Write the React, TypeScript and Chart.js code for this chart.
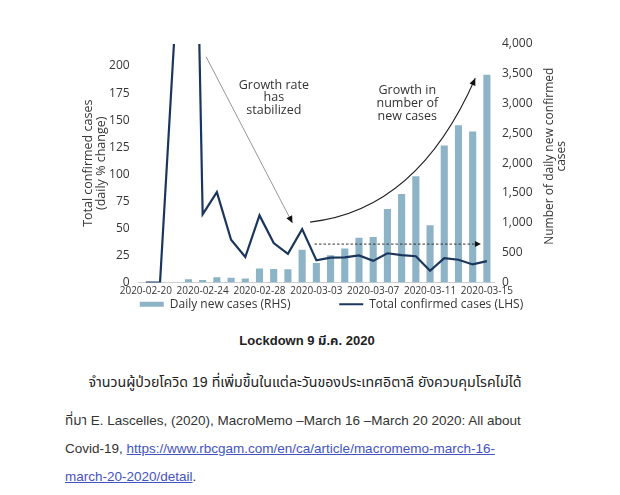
import React, { useEffect, useRef } from "react";
import { Chart, registerables } from "chart.js";

Chart.register(...registerables);

// ---------------- data ----------------
const dates = [
  "2020-02-20", "2020-02-21", "2020-02-22", "2020-02-23", "2020-02-24",
  "2020-02-25", "2020-02-26", "2020-02-27", "2020-02-28", "2020-02-29",
  "2020-03-01", "2020-03-02", "2020-03-03", "2020-03-04", "2020-03-05",
  "2020-03-06", "2020-03-07", "2020-03-08", "2020-03-09", "2020-03-10",
  "2020-03-11", "2020-03-12", "2020-03-13", "2020-03-14", "2020-03-15",
];
// Daily new cases (RHS)
const dailyNewCases = [
  0, 0, 0, 55, 40, 90, 78, 65, 235, 228,
  224, 548, 328, 455, 572, 752, 762, 1232, 1485, 1780,
  962, 2296, 2636, 2532, 3485,
];
// Total confirmed cases, daily % change (LHS)
const totalChangePct = [
  0, 0, 225, 740, 63, 83.5, 39.5, 23.5, 62, 36.5,
  26.5, 49.3, 20.5, 23, 23.3, 25, 20, 27, 25.3, 24.3,
  10.8, 22.4, 21, 16.7, 19.7,
];
const xTickLabels = ["2020-02-20", "2020-02-24", "2020-02-28", "2020-03-03", "2020-03-07", "2020-03-11", "2020-03-15"];
const leftTitle = ["Total confirmed cases", "(daily % change)"];
const rightTitle = ["Number of daily new confirmed", "cases"];
const seriesLabels = ["Total confirmed cases (LHS)", "Daily new cases (RHS)"];

// annotations (category index, RHS value)
const rateText = ["Growth rate", "has", "stabilized"];
const rateTextAt = [9.01, 3097];
const rateArrow = [[4.24, 3787], [10.32, 997]];
const casesText = ["Growth in", "number of", "new cases"];
const casesTextAt = [18.4, 3003];
const casesCurve = [[11.56, 1013], [19.13, 1210], [23.18, 3424]];
const flatArrow = [[11.87, 644], [23.58, 644]];

const FONT = '"Open Sans", "DejaVu Sans", sans-serif';
const TEXT = "#363636";
const BAR = "#8db3c7";
const LINE = "#1b365d";

function arrowHead(ctx: CanvasRenderingContext2D, x: number, y: number, ang: number, len = 7, half = 3.2) {
  ctx.beginPath();
  ctx.moveTo(x, y);
  ctx.lineTo(x - len * Math.cos(ang) + half * Math.sin(ang), y - len * Math.sin(ang) - half * Math.cos(ang));
  ctx.lineTo(x - len * Math.cos(ang) - half * Math.sin(ang), y - len * Math.sin(ang) + half * Math.cos(ang));
  ctx.closePath();
  ctx.fill();
}

const annotationPlugin = {
  id: "annotations",
  afterDraw(chart: any) {
    const { ctx, chartArea, scales } = chart;
    const x = scales.x;
    const y = scales.yRight;
    const P = (p: number[]) => [x.getPixelForValue(p[0]), y.getPixelForValue(p[1])];
    ctx.save();

    // texts
    ctx.font = `12.5px ${FONT}`;
    ctx.fillStyle = "#333";
    ctx.textAlign = "center";
    ctx.textBaseline = "middle";
    const [rx, ry] = P(rateTextAt);
    rateText.forEach((t, k) => ctx.fillText(t, rx, ry + (k - 1) * 12.6));
    const [cx, cy] = P(casesTextAt);
    casesText.forEach((t, k) => ctx.fillText(t, cx, cy + (k - 1) * 12.6));

    // growth-rate arrow
    const [a0x, a0y] = P(rateArrow[0]);
    const [a1x, a1y] = P(rateArrow[1]);
    ctx.strokeStyle = "#8a8a8a";
    ctx.lineWidth = 0.9;
    ctx.beginPath();
    ctx.moveTo(a0x, a0y);
    ctx.lineTo(a1x, a1y);
    ctx.stroke();
    ctx.fillStyle = "#111";
    arrowHead(ctx, a1x, a1y, Math.atan2(a1y - a0y, a1x - a0x));

    // curved arrow
    const [c0x, c0y] = P(casesCurve[0]);
    const [c1x, c1y] = P(casesCurve[1]);
    const [c2x, c2y] = P(casesCurve[2]);
    ctx.strokeStyle = "#222";
    ctx.lineWidth = 1.1;
    ctx.beginPath();
    ctx.moveTo(c0x, c0y);
    ctx.quadraticCurveTo(c1x, c1y, c2x, c2y);
    ctx.stroke();
    arrowHead(ctx, c2x, c2y, Math.atan2(c2y - c1y, c2x - c1x));

    // flat dashed arrow
    const [f0x, f0y] = P(flatArrow[0]);
    const [f1x, f1y] = P(flatArrow[1]);
    ctx.strokeStyle = "#333";
    ctx.lineWidth = 1;
    ctx.setLineDash([2.5, 2]);
    ctx.beginPath();
    ctx.moveTo(f0x, f0y);
    ctx.lineTo(f1x - 3, f1y);
    ctx.stroke();
    ctx.setLineDash([]);
    arrowHead(ctx, f1x, f1y, 0, 6, 3);

    // right axis title, reading bottom to top
    ctx.font = `12px ${FONT}`;
    ctx.fillStyle = TEXT;
    ctx.translate(chartArea.right + 56, (chartArea.top + chartArea.bottom) / 2 - 7);
    ctx.rotate(-Math.PI / 2);
    rightTitle.forEach((t, k) => ctx.fillText(t, 0, k * 11.8));
    ctx.restore();
  },
};

export default function App() {
  const ref = useRef<HTMLCanvasElement>(null);

  useEffect(() => {
    const chart = new Chart(ref.current as HTMLCanvasElement, {
      type: "bar",
      data: {
        labels: dates,
        datasets: [
          {
            type: "line",
            label: seriesLabels[0],
            data: totalChangePct,
            yAxisID: "y",
            borderColor: LINE,
            backgroundColor: LINE,
            borderWidth: 2.2,
            pointRadius: 0,
            tension: 0,
          } as any,
          {
            type: "bar",
            label: seriesLabels[1],
            data: dailyNewCases,
            yAxisID: "yRight",
            backgroundColor: BAR,
            borderWidth: 0,
            barPercentage: 0.5,
            categoryPercentage: 1,
          },
        ],
      },
      options: {
        responsive: false,
        animation: false,
        layout: { padding: { left: 43, right: 0, top: 36, bottom: 0.75 } },
        plugins: {
          tooltip: { enabled: false },
          legend: {
            position: "bottom",
            labels: {
              usePointStyle: true,
              pointStyleWidth: 24,
              boxHeight: 5,
              padding: 2,
              color: TEXT,
              font: { family: FONT, size: 12 },
              sort: (a: any, b: any) => b.datasetIndex - a.datasetIndex,
              generateLabels: (c: any) => {
                const items = (Chart.defaults.plugins.legend.labels as any).generateLabels(c);
                return items.map((it: any) =>
                  it.datasetIndex === 1
                    ? { ...it, pointStyle: "rect", fillStyle: BAR, strokeStyle: BAR, lineWidth: 0, text: it.text + "               " }
                    : { ...it, pointStyle: "line", strokeStyle: LINE, fillStyle: LINE, lineWidth: 2.2 }
                );
              },
            },
          },
        },
        scales: {
          x: {
            offset: true,
            grid: { display: false, drawTicks: false },
            border: { display: true, color: "#cfcfcf", width: 1 },
            ticks: {
              autoSkip: false,
              maxRotation: 0,
              minRotation: 0,
              padding: 3,
              color: TEXT,
              font: { family: FONT, size: 10 },
              callback: (_v: any, i: number) => (xTickLabels.includes(dates[i]) ? dates[i] : ""),
            },
            afterFit: (s: any) => {
              s.height = 13.75;
            },
          },
          y: {
            position: "left",
            min: 0,
            max: 220.4,
            grid: { display: false, drawTicks: false },
            border: { display: false },
            ticks: { stepSize: 25, padding: 9, color: TEXT, font: { family: FONT, size: 12 } },
            afterBuildTicks: (s: any) => {
              s.ticks = s.ticks.filter((t: any) => t.value % 25 === 0);
            },
            afterFit: (s: any) => {
              s.width = 87.7;
            },
            title: {
              display: true,
              text: leftTitle,
              color: TEXT,
              font: { family: FONT, size: 12.5, lineHeight: 1.05 },
              padding: { top: 30.4, bottom: 0 },
            },
          },
          yRight: {
            position: "right",
            min: 0,
            max: 4000,
            grid: { display: false, drawTicks: false },
            border: { display: false },
            ticks: {
              stepSize: 500,
              padding: 8,
              color: TEXT,
              font: { family: FONT, size: 12 },
              callback: (v: any) => Number(v).toLocaleString("en-US"),
            },
            afterFit: (s: any) => {
              s.width = 118;
            },
          },
        },
      },
      plugins: [annotationPlugin],
    });
    return () => chart.destroy();
  }, []);

  const bodyFont = '"Liberation Sans", Arial, "Noto Sans Thai", Tahoma, sans-serif';

  return (
    <div style={{ position: "relative", width: 604, height: 479, fontFamily: bodyFont, color: "#222" }}>
      <div style={{ position: "absolute", left: 0, top: 0, width: 604, height: 313 }}>
        <canvas ref={ref} width={604} height={313} style={{ display: "block" }} />
      </div>
      <div
        style={{
          position: "absolute",
          left: -3,
          top: 325,
          width: 604,
          lineHeight: "16px",
          textAlign: "center",
          fontWeight: "bold",
          fontSize: 13,
        }}
      >
        Lockdown 9 มี.ค. 2020
      </div>
      <div
        style={{
          position: "absolute",
          left: -5,
          top: 364,
          width: 604,
          lineHeight: "20px",
          textAlign: "center",
          fontSize: 14.2,
        }}
      >
        จำนวนผู้ป่วยโควิด 19 ที่เพิ่มขึ้นในแต่ละวันของประเทศอิตาลี ยังควบคุมโรคไม่ได้
      </div>
      <div
        style={{
          position: "absolute",
          left: 57,
          top: 399,
          width: 540,
          lineHeight: "28px",
          fontSize: 13.5,
          color: "#333",
          whiteSpace: "nowrap",
        }}
      >
        ที่มา E. Lascelles, (2020), MacroMemo –March 16 –March 20 2020: All about
        <br />
        Covid-19,{" "}
        <span style={{ color: "#4453c2", textDecoration: "underline" }}>
          https://www.rbcgam.com/en/ca/article/macromemo-march-16-
          <br />
          march-20-2020/detail
        </span>
        .
      </div>
    </div>
  );
}
